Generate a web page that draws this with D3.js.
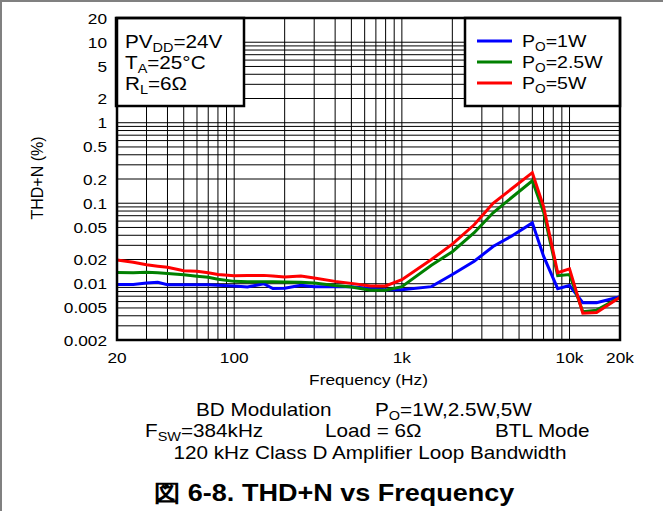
<!DOCTYPE html>
<meta charset="utf-8">
<style>
body { margin: 0; background: #fff; }
text { font-family: "Liberation Sans", Arial, sans-serif; fill: #000; }
.grid line { stroke: #000; stroke-width: 1px; }
.curve { fill: none; stroke-width: 3px; stroke-linejoin: miter; }
</style>
<svg width="663" height="511"></svg>
<script src="https://d3js.org/d3.v7.min.js"></script>
<script>

// data
const freq   = [20, 25, 30, 35, 40, 50, 60, 70, 80, 100, 120, 150, 170, 200, 250, 300, 400, 500, 650, 800, 1000, 1500, 2000, 2700, 3500, 4500, 6000, 7000, 8500, 10000, 12000, 14500, 20000];
const thd1W  = [0.0098, 0.0098, 0.0102, 0.0104, 0.0097, 0.0097, 0.0097, 0.0097, 0.0096, 0.0094, 0.0091, 0.0100, 0.0087, 0.0088, 0.0096, 0.0092, 0.0092, 0.0092, 0.0087, 0.0084, 0.0084, 0.0092, 0.013, 0.019, 0.029, 0.039, 0.057, 0.022, 0.0087, 0.0095, 0.0058, 0.0058, 0.0069];
const thd25W = [0.0138, 0.0137, 0.0139, 0.0137, 0.0134, 0.0129, 0.0124, 0.0120, 0.0114, 0.0107, 0.0106, 0.0106, 0.0106, 0.0105, 0.0104, 0.0102, 0.0095, 0.0091, 0.0083, 0.0083, 0.0092, 0.017, 0.025, 0.043, 0.076, 0.117, 0.19, 0.078, 0.0126, 0.013, 0.0045, 0.0047, 0.0068];
const thd5W  = [0.0197, 0.0185, 0.0172, 0.0165, 0.0160, 0.0145, 0.0143, 0.0137, 0.0130, 0.0126, 0.0127, 0.0127, 0.0125, 0.0121, 0.0125, 0.0118, 0.0107, 0.0101, 0.0094, 0.0094, 0.0112, 0.020, 0.031, 0.054, 0.10, 0.15, 0.24, 0.091, 0.0137, 0.0153, 0.0043, 0.0044, 0.0068];

const seriesNames = ["1W", "2.5W", "5W"];
const seriesColours = ["#0000ff", "#008000", "#ff0000"];

const xTicks = [20, 100, 1000, 10000, 20000];
const xTickLabels = ["20", "100", "1k", "10k", "20k"];
const yTicks = [20, 10, 5, 2, 1, 0.5, 0.2, 0.1, 0.05, 0.02, 0.01, 0.005, 0.002];

const plotLeft = 117, plotRight = 620, plotTop = 18, plotBottom = 340;
const sx = 1.15;   // the reference text is a bit wider than Arial

var svg = d3.select("svg");

var x = d3.scaleLog().domain([20, 20000]).range([plotLeft, plotRight]);
var y = d3.scaleLog().domain([0.002, 20]).range([plotBottom, plotTop]);

// page border (top and left only)
svg.append("line").attr("x1", 0).attr("x2", 663).attr("y1", 1).attr("y2", 1)
  .attr("stroke", "#808080").attr("stroke-width", 2);
svg.append("line").attr("x1", 1).attr("x2", 1).attr("y1", 0).attr("y2", 511)
  .attr("stroke", "#808080").attr("stroke-width", 2);

// text helper: parts are strings or {sub: "..."}
function stretchText(parent, px, py, parts, size, anchor, weight) {
  var t = parent.append("text")
    .attr("transform", "translate(" + px + "," + py + ") scale(" + sx + ",1)")
    .attr("font-size", size)
    .attr("text-anchor", anchor || "start")
    .attr("font-weight", weight || "normal");
  var shift = Math.round(size * 0.22), down = false;
  parts.forEach(function(p) {
    if (typeof p === "string") {
      var s = t.append("tspan").text(p);
      if (down) { s.attr("dy", -shift); down = false; }
    } else {
      t.append("tspan").attr("font-size", size * 0.7).attr("dy", shift).text(p.sub);
      down = true;
    }
  });
  return t;
}

// grid
var xGrid = [], yGrid = [];
[10, 100, 1000, 10000].forEach(function(d) {
  for (var k = 1; k <= 9; k++) if (k * d >= 20 && k * d <= 20000) xGrid.push(k * d);
});
xGrid.push(20000);
[0.001, 0.01, 0.1, 1, 10].forEach(function(d) {
  for (var k = 1; k <= 9; k++) if (k * d >= 0.002 && k * d <= 20) yGrid.push(k * d);
});
yGrid.push(20);

var grid = svg.append("g").attr("class", "grid");
grid.selectAll(".vx").data(xGrid).enter().append("line")
  .attr("x1", function(d) { return x(d); }).attr("x2", function(d) { return x(d); })
  .attr("y1", plotTop).attr("y2", plotBottom);
grid.selectAll(".hy").data(yGrid).enter().append("line")
  .attr("y1", function(d) { return y(d); }).attr("y2", function(d) { return y(d); })
  .attr("x1", plotLeft).attr("x2", plotRight);

// curves
var line = d3.line()
  .x(function(d) { return x(d[0]); })
  .y(function(d) { return y(d[1]); });

[thd1W, thd25W, thd5W].forEach(function(vals, i) {
  svg.append("path")
    .datum(freq.map(function(f, j) { return [f, vals[j]]; }))
    .attr("class", "curve")
    .attr("stroke", seriesColours[i])
    .attr("d", line);
});

// conditions box
svg.append("rect").attr("x", 116).attr("y", plotTop).attr("width", 128).attr("height", 88)
  .attr("fill", "#fff").attr("stroke", "#000").attr("stroke-width", 2.5);
stretchText(svg, 125, 48, ["PV", {sub: "DD"}, "=24V"], 18);
stretchText(svg, 125, 69, ["T", {sub: "A"}, "=25°C"], 18);
stretchText(svg, 125, 90, ["R", {sub: "L"}, "=6Ω"], 18);

// legend box
svg.append("rect").attr("x", 465).attr("y", plotTop).attr("width", plotRight - 465).attr("height", 88)
  .attr("fill", "#fff").attr("stroke", "#000").attr("stroke-width", 2.5);
seriesNames.forEach(function(name, i) {
  var ly = 41 + i * 21;
  svg.append("line").attr("x1", 477).attr("x2", 512).attr("y1", ly).attr("y2", ly)
    .attr("stroke", seriesColours[i]).attr("stroke-width", 3);
  stretchText(svg, 522, ly + 6, ["P", {sub: "O"}, "=" + name], 17);
});

// frame
svg.append("rect").attr("x", plotLeft).attr("y", plotTop)
  .attr("width", plotRight - plotLeft).attr("height", plotBottom - plotTop)
  .attr("fill", "none").attr("stroke", "#000").attr("stroke-width", 2.5);

// tick labels
yTicks.forEach(function(v) {
  stretchText(svg, 107, y(v) + 5.5, [String(v)], 15, "end");
});
xTicks.forEach(function(v, i) {
  stretchText(svg, x(v), 363, [xTickLabels[i]], 15, "middle");
});

// axis titles
stretchText(svg, (plotLeft + plotRight) / 2, 385, ["Frequency (Hz)"], 15, "middle");
svg.append("text")
  .attr("transform", "translate(43,178) rotate(-90)")
  .attr("font-size", 16)
  .attr("text-anchor", "middle")
  .text("THD+N (%)");

// test conditions under the plot
stretchText(svg, 196, 416, ["BD Modulation"], 18);
stretchText(svg, 375, 416, ["P", {sub: "O"}, "=1W,2.5W,5W"], 18);
stretchText(svg, 145, 437, ["F", {sub: "SW"}, "=384kHz"], 18);
stretchText(svg, 325, 437, ["Load = 6Ω"], 18);
stretchText(svg, 495, 437, ["BTL Mode"], 18);
stretchText(svg, 370, 459, ["120 kHz Class D Amplifier Loop Bandwidth"], 18, "middle");

// figure caption
stretchText(svg, 334, 501, ["図 6-8. THD+N vs Frequency"], 23.5, "middle", "bold");

</script>
